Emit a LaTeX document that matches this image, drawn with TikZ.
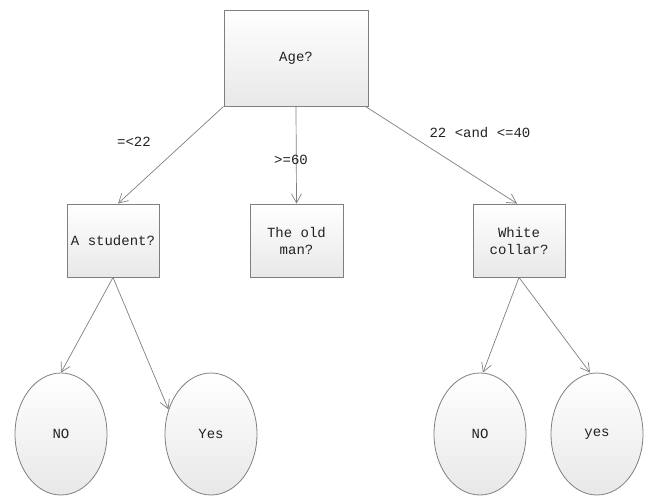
\documentclass[tikz,border=0pt]{standalone}
\usepackage{fontspec}
\setmainfont{Liberation Mono}
\usetikzlibrary{shapes.geometric,arrows.meta}
\definecolor{edge}{HTML}{7F7F7F}
\definecolor{txt}{HTML}{222222}
\tikzset{
  qbox/.style={rectangle, draw=edge, line width=0.9pt, top color=white, bottom color=black!9,
    align=center, text=txt, font=\fontsize{14}{17}\selectfont, inner sep=0pt},
  leaf/.style={ellipse, draw=edge, line width=0.8pt, top color=white, bottom color=black!9,
    minimum width=92pt, minimum height=122pt, inner sep=0pt, text=txt, font=\fontsize{14}{17}\selectfont},
  conn/.style={draw=edge, line width=0.7pt, -{Straight Barb[length=9pt,width=10pt]}},
  lab/.style={text=txt, font=\fontsize{14}{17}\selectfont, inner sep=0pt}
}
\begin{document}
\begin{tikzpicture}[x=1pt,y=-1pt]
\useasboundingbox (0,0) rectangle (650,496);
\node[qbox, minimum width=144pt, minimum height=96pt] (age) at (296,58) {Age?};
\node[qbox, minimum width=92pt, minimum height=73pt] (stu) at (113,240.5) {A student?};
\node[qbox, minimum width=93pt, minimum height=73pt] (old) at (296.5,240.5) {The old\\man?};
\node[qbox, minimum width=92pt, minimum height=73pt] (wc) at (519,240.5) {White\\collar?};
\node[leaf] (no1) at (61,434) {NO};
\node[leaf] (yes1) at (211,434) {Yes};
\node[leaf] (no2) at (480,434) {NO};
\node[leaf] (yes2) at (597,434) {yes};
\draw[conn] (age.south west) -- ([xshift=5pt]stu.north);
\draw[conn] (age.south) -- (old.north);
\draw[conn] ([xshift=-3pt]age.south east) -- ([xshift=-2pt]wc.north);
\draw[conn] (stu.south) -- (no1.north);
\draw[conn] (stu.south) -- (yes1.150);
\draw[conn] (wc.south) -- ([xshift=3pt]no2.north);
\draw[conn] (wc.south) -- ([xshift=-7pt]yes2.north);
\node[lab] (l1) at (134,142) {=<22};
\node[lab] (l2) at (291,160) {>=60};
\node[lab] (l3) at (480,133) {22 <and <=40};
\end{tikzpicture}
\end{document}
